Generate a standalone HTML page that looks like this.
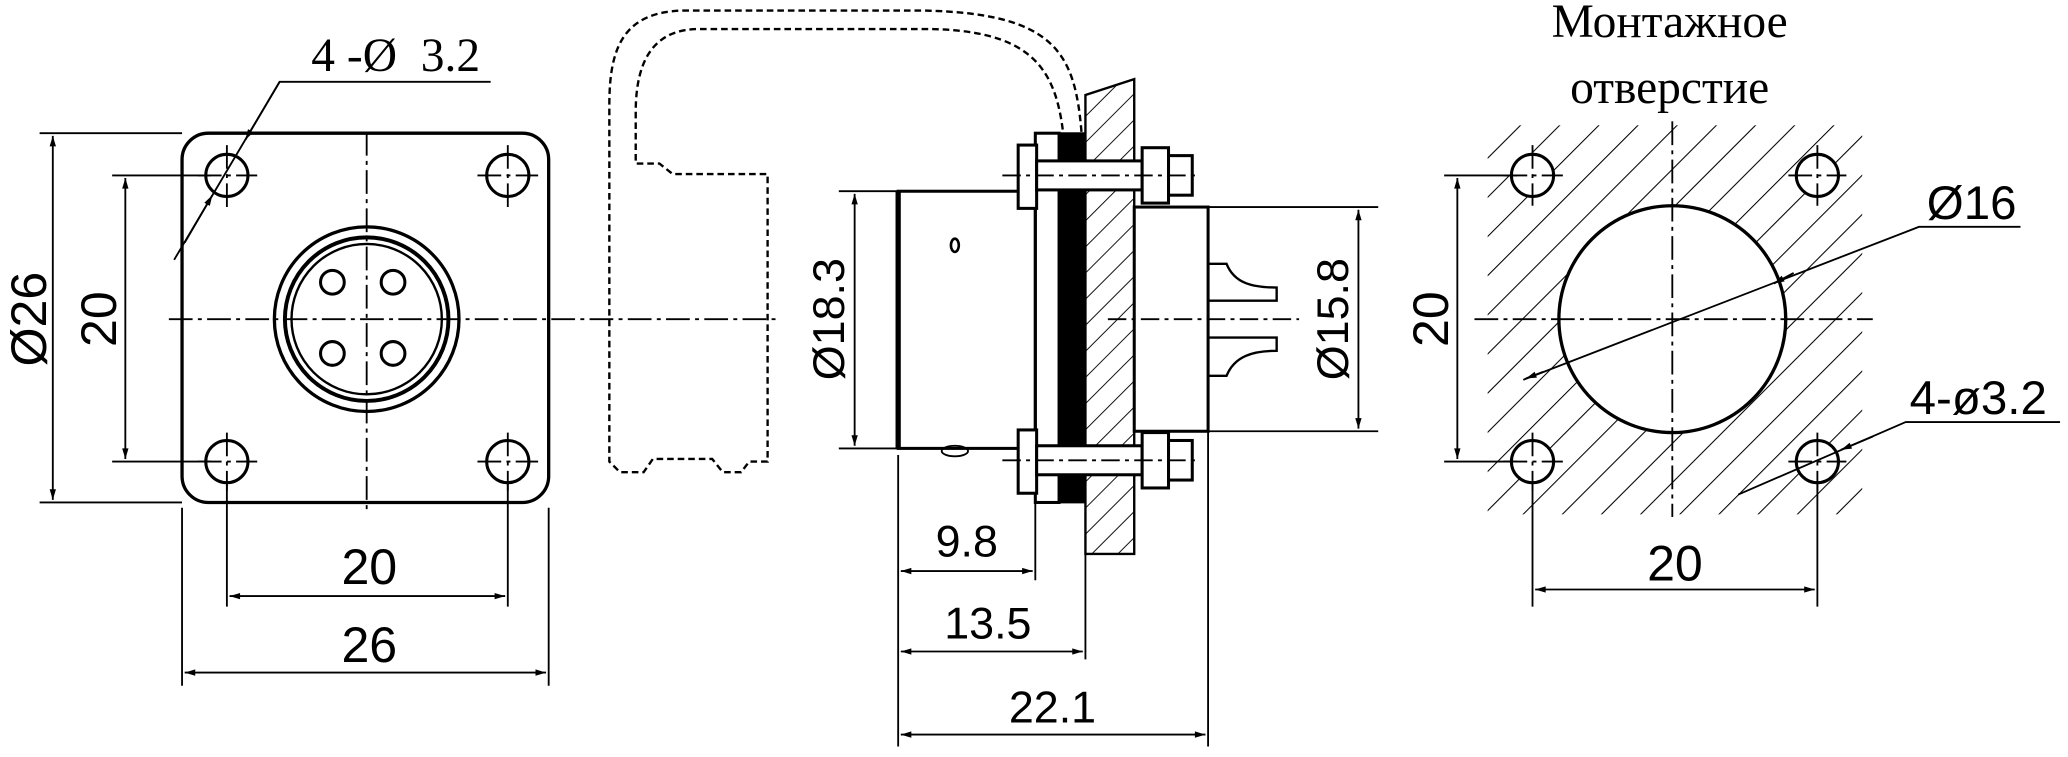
<!DOCTYPE html>
<html><head><meta charset="utf-8"><style>html,body{margin:0;padding:0;background:#fff}svg{display:block}</style></head>
<body>
<svg width="2068" height="757" viewBox="0 0 1568 574" xmlns="http://www.w3.org/2000/svg" font-family="Liberation Sans, sans-serif">
<defs>
<marker id="a" viewBox="0 0 10 10" refX="10" refY="5" markerWidth="14" markerHeight="8" orient="auto-start-reverse" markerUnits="userSpaceOnUse"><path d="M0,2 L10,5 L0,8z" fill="#000"/></marker>
<pattern id="h" width="21" height="21" patternUnits="userSpaceOnUse" patternTransform="rotate(45)"><line x1="0" y1="0" x2="0" y2="21" stroke="#000" stroke-width="1.6"/></pattern>
<pattern id="h2" width="14" height="14" patternUnits="userSpaceOnUse" patternTransform="rotate(45)"><line x1="0" y1="0" x2="0" y2="14" stroke="#000" stroke-width="1.4"/></pattern>
</defs>
<g stroke="#000" fill="none" stroke-width="1.4">
<!-- LEFT VIEW -->
<rect x="138" y="101" width="278" height="280" rx="20" stroke-width="2.5"/>
<circle cx="278" cy="242" r="70" stroke-width="2.5"/>
<circle cx="278" cy="242" r="62" stroke-width="3"/>
<circle cx="278" cy="242" r="57" stroke-width="1.8"/>
<g stroke-width="2.3">
<circle cx="252" cy="214" r="9"/><circle cx="298" cy="214" r="9"/><circle cx="252" cy="268" r="9"/><circle cx="298" cy="268" r="9"/>
<circle cx="172" cy="133" r="16"/><circle cx="385" cy="133" r="16"/><circle cx="172" cy="350" r="16"/><circle cx="385" cy="350" r="16"/>
</g>
<g stroke-dasharray="18,4,3,4">
<line x1="128" y1="242" x2="590" y2="242"/><line x1="278" y1="100" x2="278" y2="390"/>
<line x1="150" y1="133" x2="195" y2="133"/><line x1="172" y1="110" x2="172" y2="160"/>
<line x1="362" y1="133" x2="408" y2="133"/><line x1="385" y1="110" x2="385" y2="160"/>
<line x1="150" y1="350" x2="195" y2="350"/><line x1="172" y1="328" x2="172" y2="372"/>
<line x1="362" y1="350" x2="408" y2="350"/><line x1="385" y1="328" x2="385" y2="372"/>
</g>
<line x1="30" y1="101" x2="138" y2="101"/><line x1="30" y1="381" x2="138" y2="381"/>
<line x1="40" y1="103" x2="40" y2="379" marker-start="url(#a)" marker-end="url(#a)"/>
<line x1="85" y1="133" x2="160" y2="133"/><line x1="85" y1="350" x2="160" y2="350"/>
<line x1="95" y1="135" x2="95" y2="348" marker-start="url(#a)" marker-end="url(#a)"/>
<line x1="172" y1="365" x2="172" y2="460"/><line x1="385" y1="365" x2="385" y2="460"/>
<line x1="174" y1="452" x2="383" y2="452" marker-start="url(#a)" marker-end="url(#a)"/>
<line x1="138" y1="385" x2="138" y2="520"/><line x1="416" y1="385" x2="416" y2="520"/>
<line x1="140" y1="510" x2="414" y2="510" marker-start="url(#a)" marker-end="url(#a)"/>
<polyline points="372,62 212,62 132,197"/>
<line x1="212" y1="62" x2="186" y2="106" marker-end="url(#a)"/>
<line x1="140" y1="184" x2="161" y2="148" marker-end="url(#a)"/>
<!-- MIDDLE VIEW -->
<path d="M820,100 C815,40 800,10 700,8 L520,8 C470,8 462,40 462,80 L462,350 L470,358 L488,358 L495,348 L540,348 L548,358 L562,358 L568,350 L582,350 L582,132 L510,132 L500,124 L482,124 L482,85 C482,40 500,22 530,22 L700,22 C780,22 800,50 806,100" stroke-dasharray="5,3" stroke-width="1.8"/>
<rect x="681" y="145" width="104" height="195" stroke-width="2.3"/>
<line x1="681" y1="145" x2="681" y2="340" stroke-width="4"/>
<ellipse cx="724" cy="186" rx="3" ry="5" stroke-width="2"/>
<ellipse cx="724" cy="342" rx="10" ry="4"/>
<rect x="785" y="101" width="18" height="280" stroke-width="2.3"/>
<rect x="803" y="101" width="20" height="280" fill="#000"/>
<path d="M823,72 L860,60 L860,420 L823,420 Z" fill="url(#h2)" stroke-width="1.8"/>
<rect x="860" y="157" width="56" height="170" stroke-width="2.3"/>
<path d="M916,200 L930,200 C936,215 950,218 968,218 L968,228 L916,228" stroke-width="1.8"/>
<path d="M916,285 L930,285 C936,270 950,266 968,266 L968,256 L916,256" stroke-width="1.8"/>
<rect x="772" y="110" width="14" height="48" fill="#fff" stroke-width="2.3"/>
<rect x="786" y="122" width="80" height="22" fill="#fff" stroke-width="2.3"/>
<rect x="866" y="112" width="20" height="42" fill="#fff" stroke-width="2.3"/>
<rect x="886" y="118" width="18" height="30" fill="#fff" stroke-width="2.3"/>
<rect x="772" y="326" width="14" height="48" fill="#fff" stroke-width="2.3"/>
<rect x="786" y="338" width="80" height="22" fill="#fff" stroke-width="2.3"/>
<rect x="866" y="328" width="20" height="42" fill="#fff" stroke-width="2.3"/>
<rect x="886" y="334" width="18" height="30" fill="#fff" stroke-width="2.3"/>
<g stroke-dasharray="14,4,3,4"><line x1="760" y1="133" x2="910" y2="133"/><line x1="760" y1="349" x2="910" y2="349"/><line x1="840" y1="242" x2="985" y2="242"/></g>
<line x1="636" y1="145" x2="681" y2="145"/><line x1="636" y1="340" x2="681" y2="340"/>
<line x1="648" y1="147" x2="648" y2="338" marker-start="url(#a)" marker-end="url(#a)"/>
<line x1="916" y1="157" x2="1045" y2="157"/><line x1="916" y1="327" x2="1045" y2="327"/>
<line x1="1030" y1="159" x2="1030" y2="325" marker-start="url(#a)" marker-end="url(#a)"/>
<line x1="681" y1="345" x2="681" y2="566"/><line x1="785" y1="381" x2="785" y2="440"/>
<line x1="823" y1="420" x2="823" y2="500"/><line x1="916" y1="327" x2="916" y2="566"/>
<line x1="683" y1="433" x2="783" y2="433" marker-start="url(#a)" marker-end="url(#a)"/>
<line x1="683" y1="494" x2="821" y2="494" marker-start="url(#a)" marker-end="url(#a)"/>
<line x1="683" y1="557" x2="914" y2="557" marker-start="url(#a)" marker-end="url(#a)"/>
<!-- RIGHT VIEW -->
<rect x="1128" y="95" width="284" height="295" fill="url(#h)" stroke="none"/>
<circle cx="1268" cy="242" r="86" fill="#fff" stroke-width="2.5"/>
<g fill="#fff" stroke-width="2.3">
<circle cx="1162" cy="133" r="16"/><circle cx="1378" cy="133" r="16"/><circle cx="1162" cy="350" r="16"/><circle cx="1378" cy="350" r="16"/>
</g>
<g stroke-dasharray="18,4,3,4">
<line x1="1118" y1="242" x2="1420" y2="242"/><line x1="1268" y1="92" x2="1268" y2="392"/>
<line x1="1140" y1="133" x2="1185" y2="133"/><line x1="1162" y1="110" x2="1162" y2="156"/>
<line x1="1356" y1="133" x2="1400" y2="133"/><line x1="1378" y1="110" x2="1378" y2="156"/>
<line x1="1140" y1="350" x2="1185" y2="350"/><line x1="1162" y1="328" x2="1162" y2="372"/>
<line x1="1356" y1="350" x2="1400" y2="350"/><line x1="1378" y1="328" x2="1378" y2="372"/>
</g>
<line x1="1095" y1="133" x2="1150" y2="133"/><line x1="1095" y1="350" x2="1150" y2="350"/>
<line x1="1105" y1="135" x2="1105" y2="348" marker-start="url(#a)" marker-end="url(#a)"/>
<line x1="1162" y1="365" x2="1162" y2="460"/><line x1="1378" y1="365" x2="1378" y2="460"/>
<line x1="1164" y1="447" x2="1376" y2="447" marker-start="url(#a)" marker-end="url(#a)"/>
<polyline points="1532,172 1455,172 1155,288"/>
<line x1="1170" y1="282" x2="1157" y2="287" marker-end="url(#a)"/>
<line x1="1345" y1="215" x2="1360" y2="207" marker-start="url(#a)"/>
<polyline points="1562,320 1445,320 1318,375"/>
<line x1="1420" y1="331" x2="1396" y2="341" marker-end="url(#a)"/>
</g>
<g font-size="38" fill="#000" text-anchor="middle">
<text x="280" y="443">20</text>
<text x="280" y="502">26</text>
<text transform="translate(35,242) rotate(-90)">Ø26</text>
<text transform="translate(88,242) rotate(-90)">20</text>
<text x="733" y="422" font-size="34">9.8</text>
<text x="749" y="484" font-size="34">13.5</text>
<text x="798" y="548" font-size="34">22.1</text>
<text transform="translate(640,242) rotate(-90)" font-size="34">Ø18.3</text>
<text transform="translate(1022,242) rotate(-90)" font-size="34">Ø15.8</text>
<text transform="translate(1098,242) rotate(-90)">20</text>
<text x="1270" y="440">20</text>
<text x="1495" y="166" font-size="36">Ø16</text>
<text x="1500" y="314" font-size="36">4-ø3.2</text>
</g>
<g font-family="Liberation Serif, serif" fill="#000" text-anchor="middle" font-size="36">
<text x="300" y="54">4 -Ø&#160;&#160;3.2</text>
<text x="1266" y="28">Монтажное</text>
<text x="1266" y="78">отверстие</text>
</g>
</svg>
</body></html>
